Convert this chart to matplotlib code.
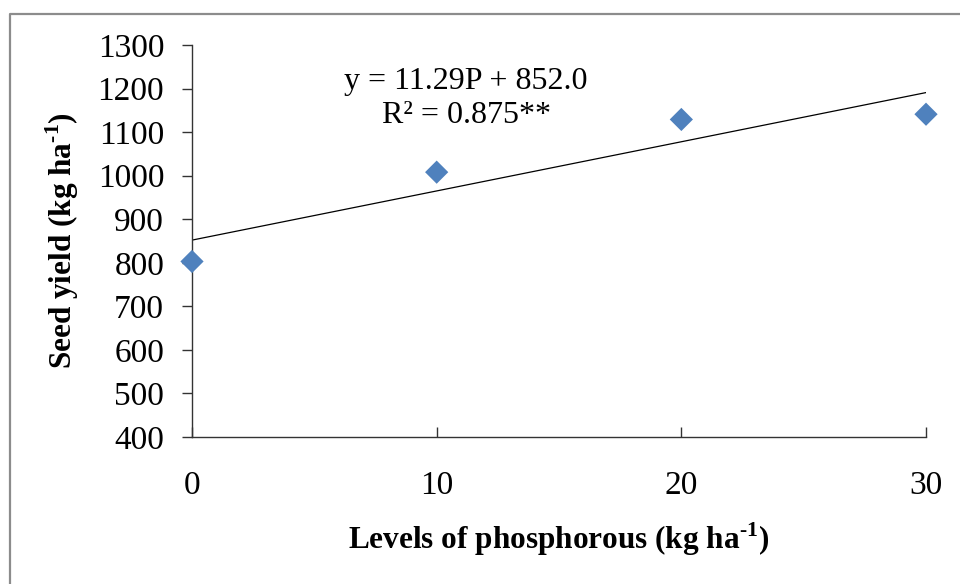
import matplotlib
matplotlib.use("Agg")
import matplotlib.pyplot as plt
from matplotlib.lines import Line2D
import numpy as np

# ─── Data ────────────────────────────────────────────────────────────────────
p_levels = [0, 10, 20, 30]
seed_yield = [803, 1008, 1129, 1141]
slope, intercept = 11.29, 852.0
r2_text = "0.875**"
y_ticks = [400, 500, 600, 700, 800, 900, 1000, 1100, 1200, 1300]
x_ticks = [0, 10, 20, 30]

plt.rcParams["font.family"] = ["Liberation Serif", "DejaVu Serif"]
plt.rcParams["mathtext.fontset"] = "custom"
plt.rcParams["mathtext.rm"] = "Liberation Serif"
plt.rcParams["mathtext.bf"] = "Liberation Serif:bold"

fig = plt.figure(figsize=(9.6, 5.84), dpi=100)
fig.patch.set_facecolor("white")
ax = fig.add_axes([0.2, 0.2517, 0.7646, 0.6713])

ax.scatter(p_levels, seed_yield, marker="D", s=140, color="#4F81BD",
           edgecolors="none", zorder=3, clip_on=False)

xf = np.array([p_levels[0], p_levels[-1]])
ax.plot(xf, slope * xf + intercept, color="black", lw=0.9, zorder=2)

ax.text(11.2, 1215, f"y = {slope:.2f}P + {intercept:.1f}", ha="center",
        va="center", fontsize=23)
ax.text(11.2, 1139, f"R² = {r2_text}", ha="center", va="center", fontsize=23)

ax.set_xlim(0, 30)
ax.set_ylim(400, 1300)
ax.set_xticks(x_ticks)
ax.set_yticks(y_ticks)
for s in ("top", "right"):
    ax.spines[s].set_visible(False)
for s in ("left", "bottom"):
    ax.spines[s].set_linewidth(1.0)
    ax.spines[s].set_color("#333333")
ax.tick_params(axis="y", direction="out", length=7, width=1.0,
               pad=13, labelsize=24, color="#333333")
ax.tick_params(axis="x", direction="in", length=7, width=1.0,
               pad=24, labelsize=24, color="#333333")

sup = r"$^{\mathbf{\text{-}1}}$"
ax.set_xlabel("Levels of phosphorous (kg ha" + sup + ")",
              fontsize=22.5, fontweight="bold", labelpad=14)
ax.set_ylabel("Seed yield (kg ha" + sup + ")",
              fontsize=22.5, fontweight="bold", labelpad=12)

# gray frame that runs off the right and bottom edges
fig.add_artist(Line2D([10 / 960, 10 / 960, 1.01], [-0.01, 1 - 14 / 584, 1 - 14 / 584],
                      transform=fig.transFigure, color="#8C8C8C", lw=1.6))

fig.savefig("out.png", dpi=100, facecolor="white")
